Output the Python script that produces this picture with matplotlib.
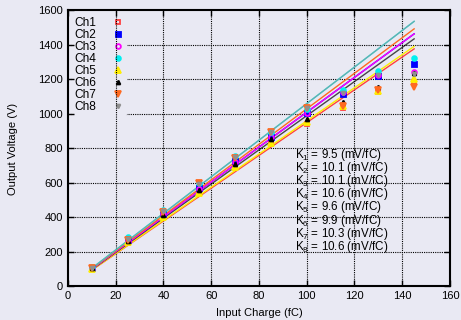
import numpy as np
import matplotlib.pyplot as plt

plt.rcParams['font.family'] = ['Liberation Sans', 'DejaVu Sans']
plt.rcParams['mathtext.default'] = 'regular'

# Input charge (fC) at each measurement point
charge = [10, 25, 40, 55, 70, 85, 100, 115, 130, 145]

# Output voltage (V) for each channel
ch1 = [104, 255, 400, 545, 690, 830, 942, 1035, 1126, 1184]
ch2 = [108, 268, 420, 570, 725, 868, 1004, 1114, 1222, 1288]
ch3 = [107, 266, 418, 568, 722, 866, 1006, 1128, 1228, 1242]
ch4 = [112, 285, 443, 598, 755, 898, 1030, 1140, 1249, 1323]
ch5 = [103, 258, 405, 540, 690, 830, 955, 1048, 1133, 1203]
ch6 = [106, 262, 412, 559, 712, 853, 969, 1071, 1158, 1240]
ch7 = [109, 272, 430, 598, 745, 897, 1035, 1045, 1139, 1158]
ch8 = [110, 276, 435, 592, 750, 897, 1033, 1120, 1226, 1230]

# fitted gain per channel (mV/fC)
gains = [9.5, 10.1, 10.1, 10.6, 9.6, 9.9, 10.3, 10.6]
fit_range = [10, 145]

names = ['Ch1', 'Ch2', 'Ch3', 'Ch4', 'Ch5', 'Ch6', 'Ch7', 'Ch8']
series = [ch1, ch2, ch3, ch4, ch5, ch6, ch7, ch8]
colors = ['#ff4040', '#0000ff', '#ff00ff', '#00f0f0', '#ffee00', '#000000', '#ff6a20', '#909090']
# marker, size, filled
styles = [('s', 3.3, False), ('s', 3.6, True), ('o', 3.4, False), ('o', 3.4, True),
          ('^', 3.8, True), ('^', 2.8, True), ('v', 3.8, True), ('v', 2.8, True)]

bg = '#e9e9f3'
fig = plt.figure(figsize=(4.61, 3.2), dpi=100, facecolor=bg)
ax = fig.add_axes([0.1475, 0.1047, 0.8285, 0.8625])
ax.set_facecolor(bg)

# horizontal grid (hidden behind legend), vertical grid on top of legend
for yv in range(200, 1600, 200):
    ax.axhline(yv, color='black', lw=0.8, ls=(0, (1, 1)), zorder=0.5)
for xv in range(20, 160, 20):
    ax.axvline(xv, color='black', lw=0.8, ls=(0, (1, 1)), zorder=1.5)

xs = np.array(fit_range)
order = [0, 4, 5, 1, 2, 6, 3, 7]
alphas = [1, 1, 1, 1, 1, 0.7, 1, 0.65]
for i in order:
    ax.plot(xs, gains[i] * xs, color=colors[i], lw=1.0, alpha=alphas[i], zorder=2)

for i in range(8):
    m, ms, filled = styles[i]
    ax.plot(charge, series[i], ls='none', marker=m, ms=ms, color=colors[i],
            mfc=colors[i] if filled else 'none', mew=1.3, label=names[i], zorder=3)

leg = ax.legend(loc='upper left', frameon=True, facecolor=bg, edgecolor='none',
                framealpha=1, markerfirst=False, handlelength=1.0, handletextpad=1.3,
                labelspacing=0.0, fontsize=8.6, borderaxespad=0.3, borderpad=0.25)
leg.set_zorder(1)

for i, k in enumerate(gains):
    ax.text(95, 762 - i * 76, 'K$_{%d}$ = %s (mV/fC)' % (i + 1, k),
            fontsize=8.4, va='center', ha='left', zorder=4)

ax.set_xlim(0, 160)
ax.set_ylim(0, 1600)
ax.set_xticks(range(0, 161, 20))
ax.set_yticks(range(0, 1601, 200))
ax.tick_params(direction='in', top=True, right=True, labelsize=8, length=4, width=1)
for s in ax.spines.values():
    s.set_linewidth(1.5)

ax.set_xlabel('Input Charge (fC)', fontsize=8, labelpad=5)
ax.set_ylabel('Output Voltage (V)', fontsize=8, labelpad=15)

fig.savefig('out.png', dpi=100, facecolor=bg)
